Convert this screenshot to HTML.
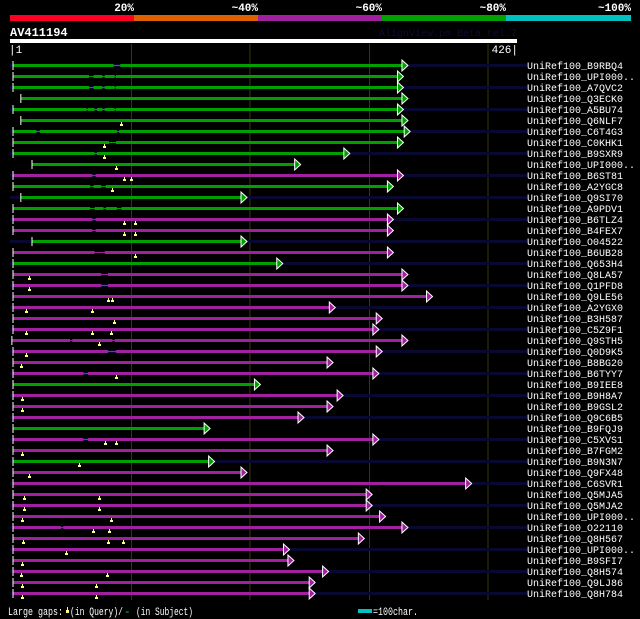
<!DOCTYPE html>
<html><head><meta charset="utf-8"><style>
html,body{margin:0;padding:0;background:#000;}
svg{display:block;font-family:"Liberation Mono","DejaVu Sans Mono",monospace;}
</style></head><body>
<svg id="chart" width="640" height="619" viewBox="0 0 640 619" xmlns="http://www.w3.org/2000/svg">
<rect x="0" y="0" width="640" height="619" fill="#000"/>
<g>
<rect x="10" y="15" width="124" height="6" fill="#ff0022"/>
<rect x="134" y="15" width="124" height="6" fill="#e06000"/>
<rect x="258" y="15" width="124" height="6" fill="#a020a0"/>
<rect x="382" y="15" width="124" height="6" fill="#00a000"/>
<rect x="506" y="15" width="125" height="6" fill="#00c0c0"/>
<g fill="#fff" font-size="11" font-weight="bold" text-anchor="end">
<text x="134" y="11">20%</text>
<text x="258" y="11">~40%</text>
<text x="382" y="11">~60%</text>
<text x="506" y="11">~80%</text>
<text x="631" y="11">~100%</text>
</g></g>
<text x="10" y="36" fill="#fff" font-size="12" font-weight="bold">AV411194</text>
<text x="517" y="36" fill="#0c0c38" font-size="10" text-anchor="end">AlignView.pm Beta rel.7</text>
<rect x="10" y="39" width="507" height="4" fill="#fff"/>
<text x="9" y="53" fill="#fff" font-size="11">|1</text>
<text x="518" y="53" fill="#fff" font-size="11" text-anchor="end">426|</text>
<g id="grid"></g>
<g id="rows"></g>
<g font-size="11" fill="#fff">
<text x="8" y="615" textLength="55" lengthAdjust="spacingAndGlyphs">Large gaps:</text>
<rect x="66" y="610" width="3" height="3" fill="#ffff80"/>
<rect x="67" y="607" width="1" height="3" fill="#ffff80"/>
<text x="70" y="615" textLength="53" lengthAdjust="spacingAndGlyphs">(in Query)/</text>
<text x="124" y="615" fill="#00c0c0">-</text>
<text x="136" y="615" textLength="57" lengthAdjust="spacingAndGlyphs">(in Subject)</text>
<rect x="358" y="609" width="14" height="4" fill="#00c0c0"/>
<text x="373" y="615" textLength="45" lengthAdjust="spacingAndGlyphs">=100char.</text>
</g>
</svg>
<script>
const hitNames=["B9RBQ4","UPI000..","A7QVC2","Q3ECK0","A5BU74","Q6NLF7","C6T4G3","C0KHK1","B9SXR9","UPI000..","B6ST81","A2YGC8","Q9SI70","A9PDV1","B6TLZ4","B4FEX7","O04522","B6UB28","Q653H4","Q8LA57","Q1PFD8","Q9LE56","A2YGX0","B3H587","C5Z9F1","Q9STH5","Q0D9K5","B8BG20","B6TYY7","B9IEE8","B9H8A7","B9GSL2","Q9C6B5","B9FQJ9","C5XVS1","B7FGM2","B9N3N7","Q9FX48","C6SVR1","Q5MJA5","Q5MJA2","UPI000..","O22110","Q8H567","UPI000..","B9SFI7","Q8H574","Q9LJ86","Q8H784"];
const hitStarts=[1,1,1,8,1,8,1,1,1,18,1,1,8,1,1,1,18,1,1,1,1,1,1,1,1,0,1,1,1,1,1,1,1,1,1,1,1,1,1,1,1,1,1,1,1,1,1,1,1];
const hitEnds=[349,345,345,349,345,349,351,345,297,253,345,336,205,345,336,336,205,336,237,349,349,371,284,326,323,349,326,282,323,217,291,282,256,172,323,282,176,205,406,317,317,329,349,310,243,247,278,266,266];
const identityClass=["g","g","g","g","g","g","g","g","g","g","p","g","g","g","p","p","g","p","g","p","p","p","p","p","p","p","p","p","p","g","p","p","p","g","p","p","g","p","p","p","p","p","p","p","p","p","p","p","p"];
const queryGaps=[[],[],[],[],[],[98],[],[82],[82],[93],[100,107],[90],[],[],[100,110],[100,110],[],[110],[],[15],[15],[86,90],[13,72],[91],[13,72,89],[78],[13],[8],[93],[],[9],[9],[],[],[83,93],[9],[60],[15],[],[11,78],[11,78],[9,89],[73,87],[10,86,99],[48],[9],[8,85],[9,75],[9,75]];
const subjectGaps=[[[91,97]],[[69,73],[81,83],[92,93]],[[69,73],[81,83],[92,93]],[],[[67,68],[74,76],[81,83],[92,93]],[],[[22,25],[94,96]],[[87,93]],[[74,76]],[],[[72,75]],[[70,73],[80,84]],[],[[70,74],[82,84],[94,98]],[[72,75]],[[72,75]],[],[[74,83]],[],[[80,86]],[[80,86]],[],[],[],[],[[52,54],[90,92]],[[86,93]],[],[[64,68]],[],[],[],[],[],[[64,68]],[],[],[],[],[],[],[],[[44,46]],[],[],[],[],[],[]];
const gridTicks=[107,213,320,426];

const NS="http://www.w3.org/2000/svg";
const xScale=r=>13+(r-1)*475/425;
const yRow=i=>65.5+i*11;
const colors={g:"#00a000",p:"#a020a0"};
function mk(tag,attrs,parent){const e=document.createElementNS(NS,tag);for(const k in attrs)e.setAttribute(k,attrs[k]);parent.appendChild(e);return e;}
const grid=document.getElementById('grid');
gridTicks.forEach(t=>{
  const l=mk('line',{x1:xScale(t),x2:xScale(t),y1:44,y2:600,stroke:'#383808','stroke-width':1},grid);
  
  
});
const rows=document.getElementById('rows');
hitNames.forEach((name,i)=>{
  const y=yRow(i);
  const g=mk('g',{},rows);
  
  
  if(i%2===0){
    const bg=mk('rect',{x:10,y:y-1.5,width:517,height:3,fill:'#080830'},g);
    
    
  }
  const c=colors[identityClass[i]];
  const x0=xScale(hitStarts[i]),x1=xScale(hitEnds[i]);
  const sg=subjectGaps[i];
  let cur=x0;
  const segs=[];
  sg.forEach(([a,b])=>{segs.push([cur,xScale(a)]);cur=xScale(b);});
  segs.push([cur,x1]);
  const thin=mk('rect',{x:x0,y:y-0.5,width:x1-x0,height:1,fill:c},g);
  
  
  segs.forEach(([a,b])=>{
    const r=mk('rect',{x:a,y:y-1.5,width:Math.max(0,b-a),height:3,fill:c},g);
    
    
  });
  const tick=mk('rect',{x:x0-0.5,y:y-4.5,width:1,height:9,fill:'#fff'},g);
  
  
  const ar=mk('polygon',{points:`${x1},${y-5.5} ${x1},${y+5.5} ${x1+6},${y}`,fill:c,stroke:'#fff','stroke-width':1},g);
  
  
  queryGaps[i].forEach(q=>{
    const qx=Math.round(xScale(q));
    const m=mk('rect',{x:qx-1,y:y+3.5,width:3,height:2,fill:'#ffff80'},g);
    
    
    const s=mk('rect',{x:qx,y:y+1.5,width:1,height:2,fill:'#ffff80'},g);
    
    
  });
  const t=mk('text',{x:527,y:y+3.5,fill:'#fff','font-size':10},g);
  t.textContent='UniRef100_'+name;
  
  
});
</script>
</body></html>
